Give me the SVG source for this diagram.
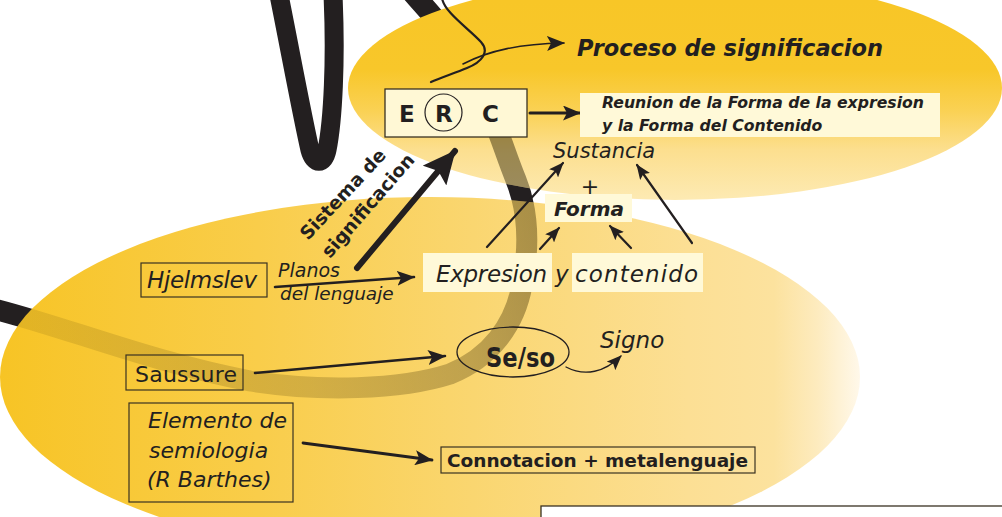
<svg xmlns="http://www.w3.org/2000/svg" width="1002" height="517" viewBox="0 0 1002 517">
<defs>
<style>
text{font-family:"DejaVu Sans","Liberation Sans",sans-serif;fill:#231F20}
.bi{font-weight:bold;font-style:italic}
.it{font-style:italic}
.b{font-weight:bold}
.box{fill:none;stroke:#3a3222;stroke-width:1.2}
.cream{fill:#FFF9D8}
.ln{fill:none;stroke:#231F20;stroke-linecap:round}
</style>
<linearGradient id="gUp" gradientUnits="userSpaceOnUse" x1="0" y1="0" x2="0" y2="200">
<stop offset="0" stop-color="#F8C627"/>
<stop offset="0.35" stop-color="#F8C72A"/>
<stop offset="0.55" stop-color="#FAD153"/>
<stop offset="0.75" stop-color="#FCDF8F"/>
<stop offset="1" stop-color="#FDEAB3"/>
</linearGradient>
<linearGradient id="gLow" gradientUnits="userSpaceOnUse" x1="0" y1="0" x2="860" y2="0">
<stop offset="0" stop-color="#F7C425"/>
<stop offset="0.3" stop-color="#F9CD4A"/>
<stop offset="0.55" stop-color="#FAD670"/>
<stop offset="0.8" stop-color="#FCDF94"/>
<stop offset="0.9" stop-color="#FCE29E"/>
<stop offset="0.95" stop-color="#FDEBBE"/>
<stop offset="1" stop-color="#FFF8EA"/>
</linearGradient>
<linearGradient id="gBand" gradientUnits="userSpaceOnUse" x1="30" y1="330" x2="530" y2="200">
<stop offset="0" stop-color="#3a2a00" stop-opacity="0.11"/>
<stop offset="0.5" stop-color="#3a2a00" stop-opacity="0.2"/>
<stop offset="0.8" stop-color="#3a2a00" stop-opacity="0.3"/>
<stop offset="1" stop-color="#3a2a00" stop-opacity="0.42"/>
</linearGradient>
<clipPath id="cLow"><ellipse cx="430" cy="377" rx="430" ry="180"/></clipPath>
<clipPath id="cUp"><ellipse cx="675" cy="88" rx="327" ry="112"/></clipPath>
<clipPath id="cBelow"><rect x="0" y="135" width="1002" height="100"/></clipPath>
<marker id="ah" viewBox="0 0 18 15" refX="17" refY="7.5" markerWidth="18" markerHeight="15" markerUnits="userSpaceOnUse" orient="auto">
<path d="M0,0 L18,7.5 L0,15 L4,7.5 Z" fill="#231F20"/>
</marker>
<marker id="ahs" viewBox="0 0 15 12" refX="14" refY="6" markerWidth="15" markerHeight="12" markerUnits="userSpaceOnUse" orient="auto">
<path d="M0,0 L15,6 L0,12 L3,6 Z" fill="#231F20"/>
</marker>
<marker id="ahb" viewBox="0 0 33 31" refX="32" refY="15.5" markerWidth="33" markerHeight="31" markerUnits="userSpaceOnUse" orient="auto">
<path d="M0,0 L33,15.5 L0,31 L6,15.5 Z" fill="#231F20"/>
</marker>
</defs>
<rect x="0" y="0" width="1002" height="517" fill="#FFFFFF"/>
<g id="band-black">
<path d="M279,-5 C290,50 303,120 310,150 C314,165 324,165 327,150 C333,120 336,60 333,-5" fill="none" stroke="#231F20" stroke-width="19" stroke-linecap="round"/>
<path d="M-10,308 C60,325 150,362 250,381 C320,392 400,390 450,374 C490,358 515,325 522,285 C530,245 528,210 516,180 C508,160 505,150 500,137 C490,110 470,60 440,25 C430,12 420,2 410,-10" fill="none" stroke="#231F20" stroke-width="21"/>
</g>
<g id="ellipses">
<ellipse cx="430" cy="377" rx="430" ry="180" fill="url(#gLow)"/>
<ellipse cx="675" cy="88" rx="327" ry="112" fill="url(#gUp)"/>
</g>
<g id="band-shadow">
<g clip-path="url(#cLow)">
<path d="M-10,308 C60,325 150,362 250,381 C320,392 400,390 450,374 C490,358 515,325 522,285 C530,245 528,210 516,180 C508,160 505,150 500,137" fill="none" stroke="url(#gBand)" stroke-width="21"/>
</g>
<g clip-path="url(#cUp)">
<path clip-path="url(#cBelow)" d="M522,285 C530,245 528,210 516,180 C508,160 505,150 500,137 C490,110 470,60 440,25" fill="none" stroke="#2e2406" stroke-opacity="0.47" stroke-width="21"/>
</g>
</g>
<g id="connectors">
<path class="ln" stroke-width="2.2" d="M442,-2 C444,12 468,28 481,42 C490,52 482,62 467,68 C455,73 440,78 431,82"/>
<path class="ln" stroke-width="1.6" d="M463,64 C490,50 520,44 564,43" marker-end="url(#ah)"/>
<path class="ln" stroke-width="3" d="M530,113 L580,113" marker-end="url(#ah)"/>
<path class="ln" stroke-width="6" stroke-linecap="butt" d="M357,268 L455,151" marker-end="url(#ahb)"/>
<path class="ln" stroke-width="2.6" d="M275,287 L414,277" marker-end="url(#ah)"/>
<path class="ln" stroke-width="2.2" d="M487,247 L563,163" marker-end="url(#ahs)"/>
<path class="ln" stroke-width="2.2" d="M540,249 L559,228" marker-end="url(#ahs)"/>
<path class="ln" stroke-width="2.2" d="M631,248 L610,226" marker-end="url(#ahs)"/>
<path class="ln" stroke-width="2.2" d="M692,243 L637,165" marker-end="url(#ahs)"/>
<path class="ln" stroke-width="2.6" d="M255,373 L445,356" marker-end="url(#ah)"/>
<path class="ln" stroke-width="1.3" d="M566,367 C585,377 605,372 621,356" marker-end="url(#ahs)"/>
<path class="ln" stroke-width="2.8" d="M303,443 L432,460" marker-end="url(#ah)"/>
</g>
<g id="node-proceso">
<text class="bi" x="577" y="56" font-size="22.5" textLength="306">Proceso de significacion</text>
</g>
<g id="node-erc">
<rect x="385" y="89" width="142" height="48" fill="#FFF8D5" stroke="#3a3222" stroke-width="1.3"/>
<circle cx="443.5" cy="112.5" r="18.5" fill="none" stroke="#231F20" stroke-width="1.2"/>
<text class="b" x="399" y="122" font-size="23">E</text>
<text class="b" x="435" y="122" font-size="23">R</text>
<text class="b" x="482" y="122" font-size="23">C</text>
</g>
<g id="node-reunion">
<rect class="cream" x="580" y="93" width="360" height="44"/>
<text class="bi" x="602" y="108" font-size="15.7">Reunion de la Forma de la expresion</text>
<text class="bi" x="602" y="131" font-size="15.7">y la Forma del Contenido</text>
</g>
<g id="node-sistema">
<text class="b" font-size="18.5" transform="translate(308,241) rotate(-47)">Sistema de</text>
<text class="b" font-size="18.5" transform="translate(330,259) rotate(-49)">significacion</text>
</g>
<g id="node-sustancia">
<text class="it" x="553" y="158" font-size="21">Sustancia</text>
<text x="590" y="194" font-size="22" text-anchor="middle">+</text>
</g>
<g id="node-forma">
<rect class="cream" x="545" y="194" width="87" height="28"/>
<text class="bi" x="554" y="216" font-size="20">Forma</text>
</g>
<g id="node-expresion">
<rect class="cream" x="423" y="253" width="129" height="39"/>
<text class="it" x="436" y="282" font-size="23" textLength="111">Expresion</text>
<text class="it" x="555" y="282" font-size="23">y</text>
<rect class="cream" x="572" y="253" width="131" height="39"/>
<text class="it" x="575" y="282" font-size="23" textLength="123">contenido</text>
</g>
<g id="node-hjelmslev">
<rect class="box" x="141" y="263" width="126" height="34"/>
<text class="it" x="147" y="288" font-size="23" textLength="110">Hjelmslev</text>
</g>
<g id="node-planos">
<text class="it" x="278" y="277" font-size="19">Planos</text>
<text class="it" x="280" y="300" font-size="18.5">del lenguaje</text>
</g>
<g id="node-saussure">
<rect class="box" x="126" y="355" width="117" height="35"/>
<text x="135" y="382" font-size="22" textLength="102">Saussure</text>
</g>
<g id="node-seso">
<ellipse cx="513" cy="352" rx="56" ry="25" fill="none" stroke="#231F20" stroke-width="1.3"/>
<text class="b" x="486" y="367" font-size="26" textLength="69" lengthAdjust="spacingAndGlyphs">Se/so</text>
</g>
<g id="node-signo">
<text class="it" x="600" y="348" font-size="23">Signo</text>
</g>
<g id="node-elemento">
<rect class="box" x="129" y="403" width="164" height="99"/>
<text class="it" x="148" y="428" font-size="22">Elemento de</text>
<text class="it" x="149" y="458" font-size="22">semiologia</text>
<text class="it" x="147" y="487" font-size="22">(R Barthes)</text>
</g>
<g id="node-connotacion">
<rect class="box" x="441" y="447" width="314" height="26"/>
<text class="b" x="447" y="467" font-size="18.5" textLength="301">Connotacion + metalenguaje</text>
</g>
<g id="node-bottom">
<rect x="541" y="506" width="475" height="30" fill="#FFFFFF" stroke="#3a3222" stroke-width="1.3"/>
</g>
</svg>
